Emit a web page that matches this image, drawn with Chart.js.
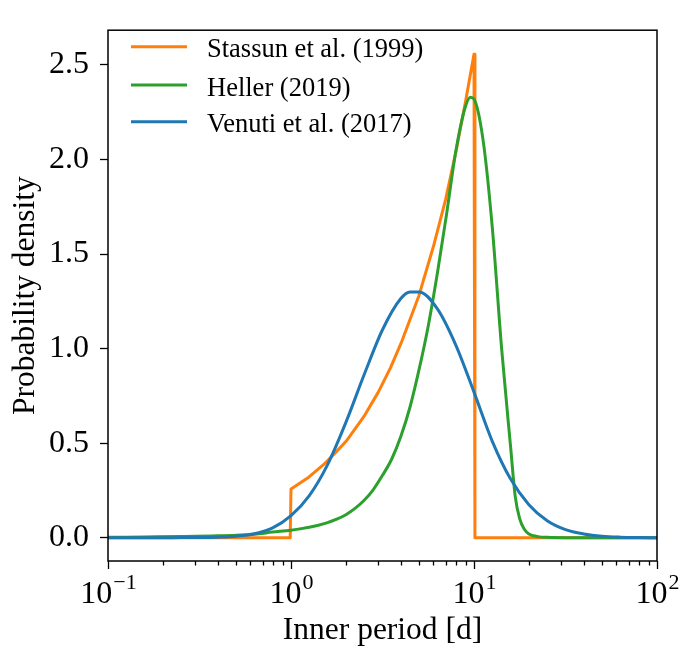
<!DOCTYPE html>
<html>
<head>
<meta charset="utf-8">
<script src="https://cdn.jsdelivr.net/npm/chart.js@4/dist/chart.umd.min.js"></script>
<style>
  html, body { margin: 0; padding: 0; background: #fff; }
  #wrap { width: 681px; height: 646px; }
</style>
</head>
<body>
<div id="wrap"><canvas id="chart" width="681" height="646"></canvas></div>
<script>
const seriesNames = ['Stassun et al. (1999)', 'Heller (2019)', 'Venuti et al. (2017)'];
const seriesColors = ['#ff7f0e', '#2ca02c', '#1f77b4'];

// Stassun et al. (1999) - flat, step at 1 d, rise to 10 d, then drop
const stassunX = [0.1, 0.99, 1.0, 1.25, 1.5, 1.75, 2.0, 2.5, 3.0, 3.5, 4.0, 5.0, 6.0, 7.0, 8.0, 9.0, 10.0, 10.12, 100];
const stassunY = [0, 0, 0.258, 0.32, 0.385, 0.45, 0.51, 0.64, 0.77, 0.9, 1.03, 1.28, 1.54, 1.79, 2.05, 2.31, 2.557, 0, 0];

// Heller (2019)
const hellerX = [0.1, 0.158, 0.251, 0.398, 0.631, 0.794, 1.0, 1.122, 1.259, 1.413, 1.585, 1.778, 1.995, 2.239, 2.512,
  2.818, 3.162, 3.548, 3.981, 4.467, 5.012, 5.623, 6.31, 7.079, 7.943, 8.913, 9.55, 10.0, 11.22, 12.59, 14.13,
  15.85, 16.79, 17.78, 18.84, 19.95, 22.39, 25.12, 31.62, 100];
const hellerY = [0.002, 0.004, 0.006, 0.01, 0.019, 0.03, 0.04, 0.047, 0.055, 0.066, 0.08, 0.098, 0.122, 0.155, 0.198,
  0.255, 0.33, 0.415, 0.535, 0.69, 0.89, 1.12, 1.40, 1.71, 2.04, 2.27, 2.33, 2.32, 2.10, 1.64, 1.01,
  0.48, 0.22, 0.10, 0.045, 0.02, 0.006, 0.002, 0, 0];

// Venuti et al. (2017)
const venutiX = [0.1, 0.126, 0.158, 0.2, 0.251, 0.316, 0.398, 0.501, 0.631, 0.794, 1.0, 1.259, 1.585, 1.995, 2.512,
  3.162, 3.981, 4.467, 5.012, 6.31, 7.943, 10.0, 12.59, 15.85, 19.95, 25.12, 31.62, 39.81, 50.12, 63.1, 79.43, 100];
const venutiY = [0, 0, 0, 0, 0.001, 0.001, 0.003, 0.008, 0.021, 0.052, 0.117, 0.223, 0.387, 0.61, 0.863,
  1.10, 1.265, 1.30, 1.30, 1.21, 1.02, 0.77, 0.51, 0.31, 0.175, 0.09, 0.043, 0.02, 0.008, 0.003, 0.001, 0];

const yTicks = [0.0, 0.5, 1.0, 1.5, 2.0, 2.5];
const xMajorTicks = [0.1, 1, 10, 100];
const xTickExponents = ['\u22121', '0', '1', '2'];

const serif = '"Liberation Serif", "Times New Roman", serif';

const toPoints = (xs, ys) => xs.map((x, i) => ({ x: x, y: ys[i] }));

const axisDecor = {
  id: 'axisDecor',
  afterDraw(chart) {
    const { ctx, chartArea: area } = chart;
    const xScale = chart.scales.x;
    ctx.save();
    ctx.strokeStyle = '#000';

    // x ticks, major and minor
    ctx.lineWidth = 1.3;
    for (let k = -1; k <= 2; k++) {
      for (let m = 1; m <= 9; m++) {
        const v = m * Math.pow(10, k);
        if (v > 100.0001) break;
        const px = Math.round(xScale.getPixelForValue(v)) + 0.5;
        const len = m === 1 ? 8 : 4.5;
        ctx.beginPath();
        ctx.moveTo(px, area.bottom);
        ctx.lineTo(px, area.bottom + len);
        ctx.stroke();
      }
    }

    // x tick labels 10^n
    ctx.fillStyle = '#000';
    ctx.textBaseline = 'alphabetic';
    ctx.textAlign = 'left';
    xMajorTicks.forEach((v, i) => {
      const px = xScale.getPixelForValue(v);
      ctx.font = '32px ' + serif;
      const wBase = ctx.measureText('10').width;
      ctx.font = '22px ' + serif;
      const wExp = ctx.measureText(xTickExponents[i]).width;
      const x0 = px - (wBase + wExp) / 2;
      ctx.font = '32px ' + serif;
      ctx.fillText('10', x0, 603);
      ctx.font = '22px ' + serif;
      ctx.fillText(xTickExponents[i], x0 + wBase + 1, 589);
    });

    // frame
    ctx.lineWidth = 1.5;
    ctx.strokeRect(area.left, area.top, area.right - area.left, area.bottom - area.top);

    // legend
    const legendY = [46.7, 85, 121.7];
    seriesNames.forEach((name, i) => {
      ctx.strokeStyle = seriesColors[i];
      ctx.lineWidth = 3;
      ctx.beginPath();
      ctx.moveTo(131, legendY[i]);
      ctx.lineTo(187, legendY[i]);
      ctx.stroke();
      ctx.fillStyle = '#000';
      ctx.font = '26.5px ' + serif;
      ctx.fillText(name, 207, legendY[i] + 10.5);
    });
    ctx.restore();
  }
};

new Chart(document.getElementById('chart'), {
  type: 'line',
  data: {
    datasets: [
      {
        label: seriesNames[0],
        data: toPoints(stassunX, stassunY),
        borderColor: seriesColors[0],
        borderWidth: 3,
        tension: 0,
        order: 3
      },
      {
        label: seriesNames[1],
        data: toPoints(hellerX, hellerY),
        borderColor: seriesColors[1],
        borderWidth: 3,
        cubicInterpolationMode: 'monotone',
        order: 2
      },
      {
        label: seriesNames[2],
        data: toPoints(venutiX, venutiY),
        borderColor: seriesColors[2],
        borderWidth: 3,
        cubicInterpolationMode: 'monotone',
        order: 1
      }
    ]
  },
  options: {
    responsive: false,
    animation: false,
    elements: { point: { radius: 0 }, line: { borderCapStyle: 'butt', borderJoinStyle: 'round' } },
    layout: { padding: { top: 13, right: 24, left: 0, bottom: 0 } },
    plugins: {
      legend: { display: false },
      tooltip: { enabled: false }
    },
    scales: {
      x: {
        type: 'logarithmic',
        min: 0.1,
        max: 100,
        grid: { display: false },
        border: { display: false },
        ticks: { display: false },
        title: {
          display: true,
          text: 'Inner period [d]',
          color: '#000',
          font: { family: serif, size: 31.5, lineHeight: 1 },
          padding: { top: 0, bottom: 0 }
        },
        afterFit: (s) => { s.height = 85; }
      },
      y: {
        type: 'linear',
        min: -0.123,
        max: 2.684,
        afterBuildTicks: (s) => { s.ticks = yTicks.map(v => ({ value: v })); },
        grid: {
          display: true,
          drawOnChartArea: false,
          drawTicks: true,
          tickLength: 8,
          tickColor: '#000',
          tickWidth: 1.3
        },
        border: { display: false },
        ticks: {
          color: '#000',
          font: { family: serif, size: 32 },
          padding: 11,
          callback: (v) => Number(v).toFixed(1)
        },
        title: {
          display: true,
          text: 'Probability density',
          color: '#000',
          font: { family: serif, size: 31.5, lineHeight: 1 },
          padding: { top: 10, bottom: 0 }
        },
        afterFit: (s) => { s.width = 108; }
      }
    }
  },
  plugins: [axisDecor]
});
</script>
</body>
</html>
